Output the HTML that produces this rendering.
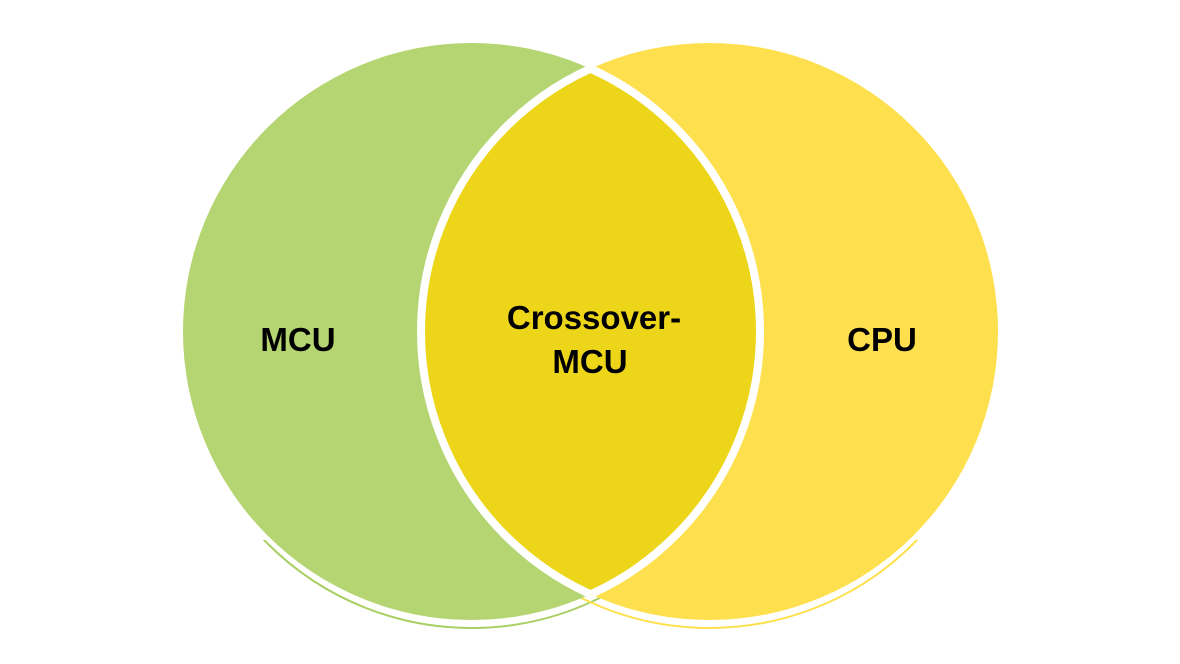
<!DOCTYPE html>
<html><head><style>
html,body{margin:0;padding:0;background:#fff;overflow:hidden;}
svg{display:block;}
text{font-family:"Liberation Sans",sans-serif;font-weight:bold;font-size:33px;fill:#000;}
</style></head><body>
<svg width="1180" height="664" viewBox="0 0 1180 664">
<defs>
<clipPath id="cl"><circle cx="471.5" cy="331.5" r="288.5"/></clipPath>
<clipPath id="cr"><circle cx="709.5" cy="331.5" r="288.5"/></clipPath>
<clipPath id="bot"><rect x="0" y="540" width="1180" height="124"/></clipPath>
</defs>
<circle cx="471.5" cy="339.5" r="288.5" fill="none" stroke="#a9cf62" stroke-width="2" clip-path="url(#bot)"/>
<circle cx="709.5" cy="339.5" r="288.5" fill="none" stroke="#fde04c" stroke-width="2" clip-path="url(#bot)"/>
<circle cx="471.5" cy="331.5" r="288.5" fill="#b5d572"/>
<circle cx="709.5" cy="331.5" r="288.5" fill="#fee04e"/>
<circle cx="709.5" cy="331.5" r="288.5" fill="#edd61a" clip-path="url(#cl)"/>
<circle cx="709.5" cy="331.5" r="288.5" fill="none" stroke="#fff" stroke-width="8" clip-path="url(#cl)"/>
<circle cx="471.5" cy="331.5" r="288.5" fill="none" stroke="#fff" stroke-width="8" clip-path="url(#cr)"/>
<text x="298" y="351" text-anchor="middle">MCU</text>
<text x="882" y="351" text-anchor="middle">CPU</text>
<text x="594" y="329" text-anchor="middle">Crossover-</text>
<text x="590" y="373" text-anchor="middle">MCU</text>
</svg>
</body></html>
